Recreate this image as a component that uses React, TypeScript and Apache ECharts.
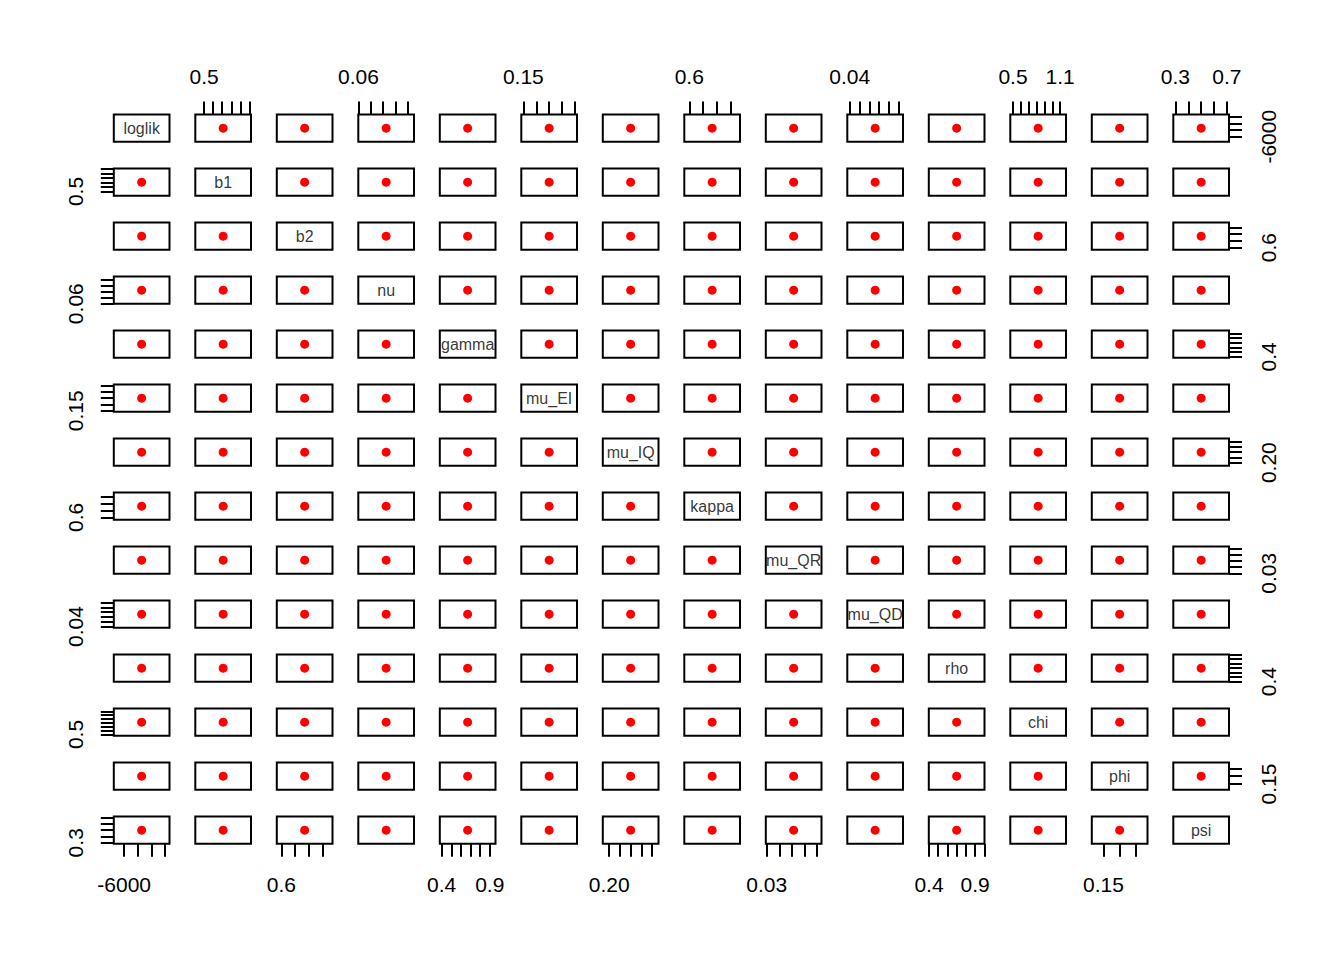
import React, { useEffect, useRef } from "react";
import * as echarts from "echarts";

// Variables of the pairs plot (each has one estimate)
const varNames = ["loglik", "b1", "b2", "nu", "gamma", "mu_EI", "mu_IQ", "kappa", "mu_QR", "mu_QD", "rho", "chi", "phi", "psi"];
const varValues = [-4720, 0.71, 0.94, 0.105, 0.67, 0.25, 0.3, 0.93, 0.0515, 0.066, 0.7, 0.82, 0.2, 0.5];

// Tick marks of each variable's axis
const tickSets = [
  [-6000, -5000, -4000, -3000],
  [0.5, 0.6, 0.7, 0.8, 0.9, 1.0],
  [0.6, 0.8, 1.0, 1.2],
  [0.06, 0.08, 0.1, 0.12, 0.14],
  [0.4, 0.5, 0.6, 0.7, 0.8, 0.9],
  [0.15, 0.2, 0.25, 0.3, 0.35],
  [0.2, 0.25, 0.3, 0.35, 0.4],
  [0.6, 0.8, 1.0, 1.2],
  [0.03, 0.04, 0.05, 0.06, 0.07],
  [0.04, 0.05, 0.06, 0.07, 0.08, 0.09],
  [0.4, 0.5, 0.6, 0.7, 0.8, 0.9, 1.0],
  [0.5, 0.6, 0.7, 0.8, 0.9, 1.0, 1.1],
  [0.15, 0.2, 0.25],
  [0.3, 0.4, 0.5, 0.6, 0.7],
];

// Labelled ticks on horizontal (top/bottom) and vertical (left/right) axes
const xLabelSets = [
  [-6000], [0.5], [0.6], [0.06], [0.4, 0.9], [0.15], [0.2], [0.6], [0.03], [0.04], [0.4, 0.9], [0.5, 1.1], [0.15], [0.3, 0.7],
];
const yLabelSets = [
  [-6000], [0.5], [0.6], [0.06], [0.4], [0.15], [0.2], [0.6], [0.03], [0.04], [0.4], [0.5], [0.15], [0.3],
];
const labelDigits = [0, 1, 1, 2, 1, 2, 2, 1, 2, 2, 1, 1, 2, 1];

const N = varNames.length;
const LEFT0 = 113.8;
const TOP0 = 114.5;
const COL_STEP = 81.5;
const ROW_STEP = 54;
const PW = 55.7;
const PH = 27.3;
const FONT = "'Liberation Sans', Arial, sans-serif";

function axisRange(i: number) {
  const v = varValues[i];
  const a = Math.abs(v) * 0.4;
  const lo = v - a;
  const hi = v + a;
  const ext = (hi - lo) * 0.04;
  return { min: lo - ext, max: hi + ext };
}

export default function App() {
  const ref = useRef<HTMLDivElement>(null);
  useEffect(() => {
    if (!ref.current) return;
    const chart = echarts.init(ref.current, undefined, { renderer: "svg" });
    const grids: any[] = [];
    const xAxes: any[] = [];
    const yAxes: any[] = [];
    const series: any[] = [];
    for (let r = 0; r < N; r++) {
      for (let c = 0; c < N; c++) {
        const g = r * N + c;
        grids.push({
          left: LEFT0 + c * COL_STEP,
          top: TOP0 + r * ROW_STEP,
          width: PW,
          height: PH,
          show: true,
          borderColor: "#000",
          borderWidth: 2,
          backgroundColor: "transparent",
        });
        const showTop = r === 0 && c % 2 === 1;
        const showBottom = r === N - 1 && c % 2 === 0;
        const showLeft = c === 0 && r % 2 === 1;
        const showRight = c === N - 1 && r % 2 === 0;
        const xr = axisRange(c);
        const yr = axisRange(r);
        const xShow = showTop || showBottom;
        const yShow = showLeft || showRight;
        xAxes.push({
          type: "value",
          gridIndex: g,
          min: xr.min,
          max: xr.max,
          show: xShow,
          position: showTop ? "top" : "bottom",
          axisLine: { show: false },
          splitLine: { show: false },
          axisTick: {
            show: xShow,
            customValues: tickSets[c],
            length: 13,
            lineStyle: { color: "#000", width: 2 },
          },
          axisLabel: {
            show: xShow,
            customValues: xLabelSets[c],
            formatter: (val: number) => val.toFixed(labelDigits[c]),
            fontSize: 21,
            fontFamily: FONT,
            color: "#000",
            margin: showTop ? 28 : 30,
          },
        });
        yAxes.push({
          type: "value",
          gridIndex: g,
          min: yr.min,
          max: yr.max,
          show: yShow,
          position: showRight ? "right" : "left",
          axisLine: { show: false },
          splitLine: { show: false },
          axisTick: {
            show: yShow,
            customValues: tickSets[r],
            length: 13,
            lineStyle: { color: "#000", width: 2 },
          },
          axisLabel: {
            show: yShow,
            customValues: yLabelSets[r],
            formatter: (val: number) => val.toFixed(labelDigits[r]),
            rotate: 90,
            fontSize: 21,
            fontFamily: FONT,
            color: "#000",
            margin: showRight ? 29 : 27.5,
          },
        });
        if (r === c) {
          series.push({
            type: "scatter",
            xAxisIndex: g,
            yAxisIndex: g,
            silent: true,
            symbolSize: 1,
            itemStyle: { color: "transparent" },
            data: [[varValues[c], varValues[r]]],
            label: {
              show: true,
              position: "inside",
              formatter: () => varNames[r],
              fontSize: 16,
              fontFamily: FONT,
              color: "#000",
            },
          });
        } else {
          series.push({
            type: "scatter",
            xAxisIndex: g,
            yAxisIndex: g,
            silent: true,
            symbol: "circle",
            symbolSize: 9,
            itemStyle: { color: "#FF0000", opacity: 1 },
            data: [[varValues[c], varValues[r]]],
          });
        }
      }
    }
    chart.setOption({
      animation: false,
      backgroundColor: "#fff",
      grid: grids,
      xAxis: xAxes,
      yAxis: yAxes,
      series,
    });
    return () => chart.dispose();
  }, []);
  return (
    <div
      ref={ref}
      style={{ position: "fixed", left: 0, top: 0, width: 1344, height: 960, background: "#fff" }}
    />
  );
}
